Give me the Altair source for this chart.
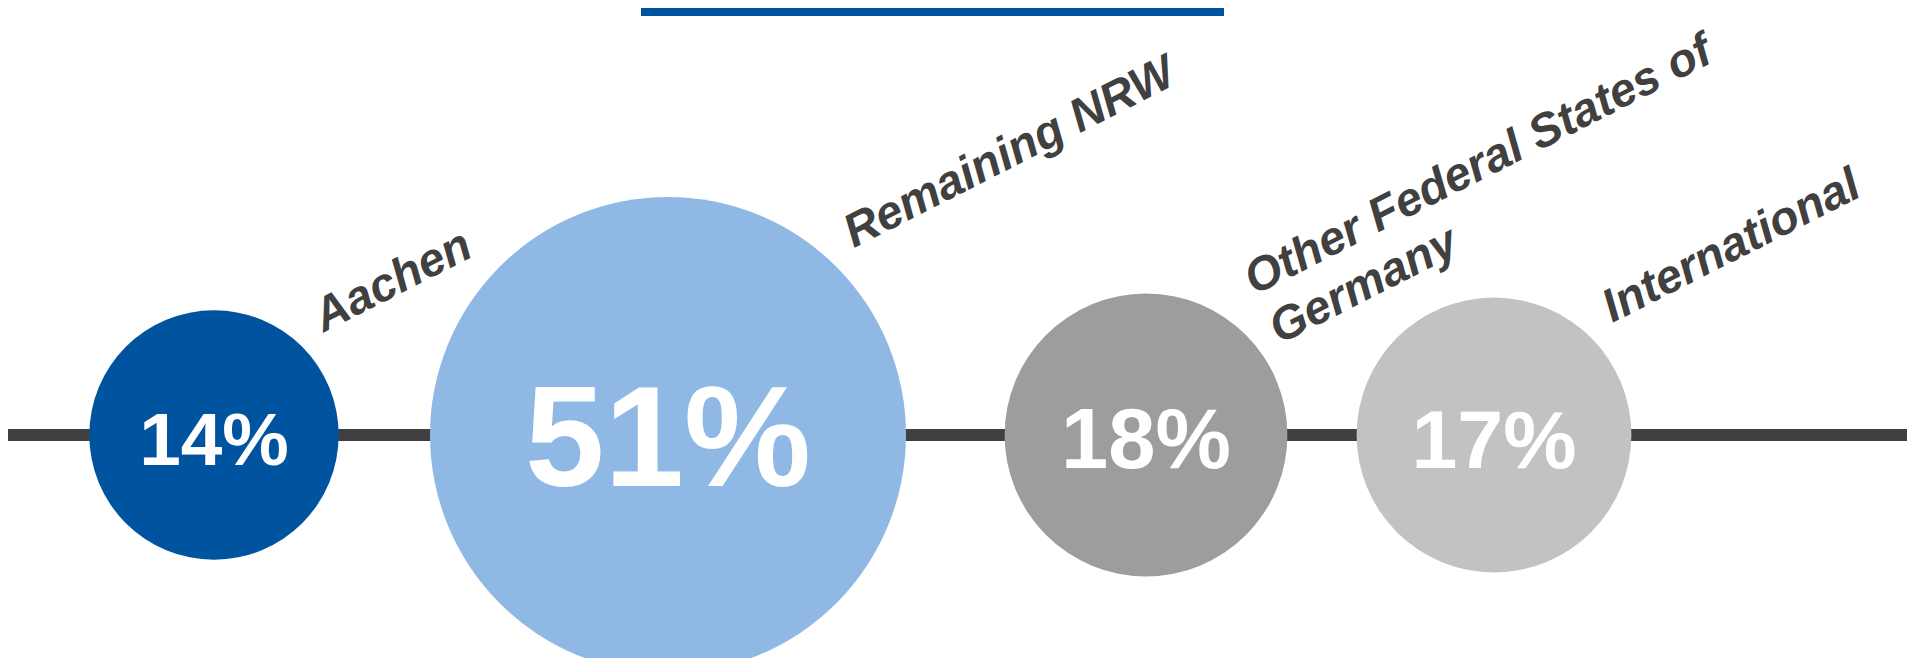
import altair as alt
import pandas as pd

# ---- data ----
categories = ["Aachen", "Remaining NRW", "Other Federal States of\nGermany", "International"]
shares = [14, 51, 18, 17]
colors = ["#00539F", "#8FB9E4", "#9D9D9D", "#C1C2C4"]

df = pd.DataFrame({"category": categories, "share": shares})

W, H = 1899, 427
LABEL_SIZE = 47
LINE_H = 55

base = alt.Chart(df).transform_window(
    slot="row_number()"
).transform_calculate(
    pct_label="datum.share + '%'"
)

x_enc = alt.X("slot:Q", axis=None,
              scale=alt.Scale(domain=[1, 2, 3, 4], range=[206, 660, 1138, 1486],
                              zero=False, nice=False))
y_enc = alt.YDatum(0, type="quantitative", axis=None,
                   scale=alt.Scale(domain=[0, 1], zero=False, nice=False))

baseline = alt.Chart(pd.DataFrame({"k": [0]})).mark_rule(
    color="#404040", strokeWidth=12
).encode(y=y_enc)

bar = alt.Chart(pd.DataFrame({"k": [0]})).mark_rect(color="#00539F").encode(
    x=alt.value(633), x2=alt.value(1216), y=alt.value(0), y2=alt.value(8)
)

bubbles = base.mark_circle(opacity=1).encode(
    x=x_enc,
    y=y_enc,
    size=alt.Size("share:Q", legend=None,
                  scale=alt.Scale(domain=[0, 51], range=[0, 476 ** 2], zero=True)),
    color=alt.Color("category:N", legend=None,
                    scale=alt.Scale(domain=categories, range=colors)),
)

pct = base.mark_text(
    align="center", baseline="middle", dy=8,
    font="Liberation Sans", fontWeight="bold", color="white",
    fontSize={"expr": "0.6 * sqrt(scale('size', datum.share)) / 2"},
).encode(x=x_enc, y=y_enc, text="pct_label:N")

labels = base.mark_text(
    align="left", baseline="middle", angle=333,
    font="Liberation Sans", fontWeight="bold", fontStyle="italic",
    fontSize=LABEL_SIZE, lineHeight=LINE_H, color="#404040", lineBreak="\n",
    radius={"expr": "sqrt(scale('size', datum.share)) / 2 + 30"},
    theta=0.733,
    dy={"expr": "-(length(split(datum.category, '\\n')) - 1) * %d / 2" % LINE_H},
).encode(x=x_enc, y=y_enc, text="category:N")

chart = alt.layer(bar, baseline, bubbles, pct, labels).properties(
    width=W, height=H,
    autosize=alt.AutoSizeParams(type="none"),
    padding={"left": 0, "top": 0, "right": 0, "bottom": 223},
).configure_view(stroke=None)

chart.save("out.html", embed_options={"renderer": "svg", "actions": False})
